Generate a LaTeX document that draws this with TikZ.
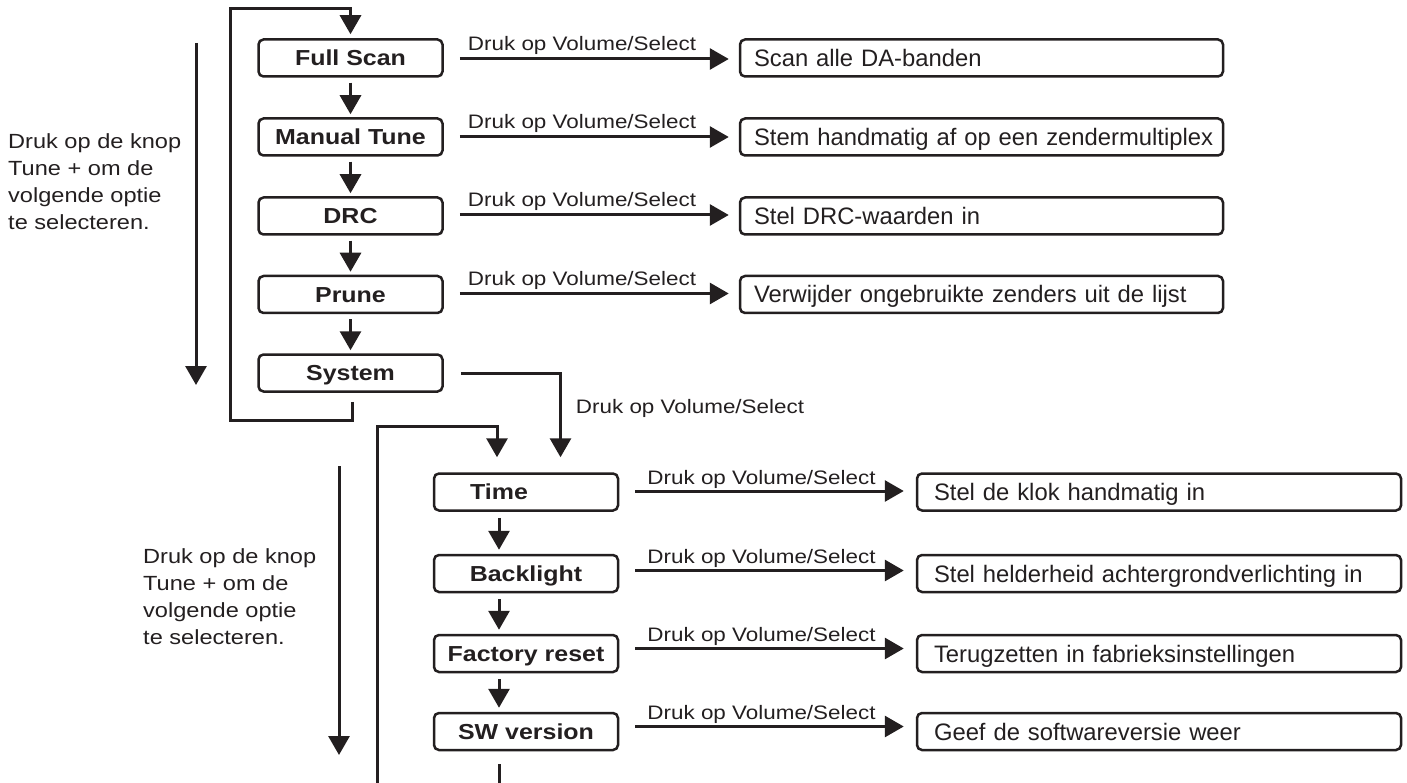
\documentclass[tikz,border=0pt]{standalone}
\usepackage{fontspec}
\setmainfont{Liberation Sans}
\newfontfamily\wide{Liberation Sans}[FakeStretch=1.15]
\usetikzlibrary{arrows.meta,calc}
\definecolor{ink}{HTML}{231F20}
\begin{document}
\begin{tikzpicture}[x=1pt,y=-1pt,
  lw/.style={line width=3pt, draw=ink},
  arr/.style={-{Triangle[length=19pt,width=21pt]}, line width=3pt, draw=ink},
  box/.style={draw=ink, line width=2.5pt, rounded corners=5pt, minimum width=184pt,
    minimum height=37pt, inner sep=0pt, text=ink, text height=15.5pt, text depth=0pt,
    font=\wide\bfseries\fontsize{21.7}{26}\selectfont},
  rbox/.style={draw=ink, line width=2.5pt, rounded corners=5pt, minimum height=37pt,
    inner ysep=0pt, align=left, text=ink, text height=17pt, text depth=0pt,
    font=\fontsize{23.8}{28}\selectfont},
  rboxa/.style={rbox, inner xsep=14pt, text width=455pt},
  rboxb/.style={rbox, inner xsep=17pt, text width=450pt},
  lbl/.style={anchor=base west, inner sep=0pt, text=ink, font=\wide\fontsize{19.5}{23}\selectfont},
  side/.style={anchor=north west, inner sep=0pt, align=left, text=ink,
    font=\wide\fontsize{20.5}{27}\selectfont}
]
\useasboundingbox (0,0) rectangle (1407,783);

% ---- top column
\node[box] (fs)    at (350.5,58)    {Full Scan};
\node[box] (mt)    at (350.5,137)   {Manual Tune};
\node[box] (drc)   at (350.5,216)   {DRC};
\node[box] (prune) at (350.5,294.5) {Prune};
\node[box] (sys)   at (350.5,373)   {System};

\node[rboxa] (r1) at (981.5,58)    {\mbox{Scan alle DA-banden}};
\node[rboxa] (r2) at (981.5,137)   {\mbox{Stem handmatig af op een zendermultiplex}};
\node[rboxa] (r3) at (981.5,216)   {\mbox{Stel DRC-waarden in}};
\node[rboxa] (r4) at (981.5,294.5) {\mbox{Verwijder ongebruikte zenders uit de lijst}};

\foreach \a/\b in {fs/mt, mt/drc, drc/prune, prune/sys}
  \draw[arr] ($(\a.south)+(0,5)$) -- ($(\b.north)+(0,-3)$);

\foreach \a/\b/\o in {fs/r1/1, mt/r2/0, drc/r3/-1, prune/r4/-1}{
  \draw[arr] ($(\a.east)+(16,\o)$) coordinate (s) -- ($(\b.west)+(-10,\o)$);
  \node[lbl] at ($(s)+(8,-8)$) {Druk op Volume/Select};
}

% top loop
\coordinate (loopA) at (230,9);
\draw[arr] ($(sys.south)+(1.5,9)$) -- ++(0,19) -| (loopA) -| ($(fs.north)+(0,-4)$);

% top left arrow and text
\coordinate (la1) at (196,43);
\coordinate (la2) at (196,385);
\draw[arr] (la1) -- (la2);
\node[side] (t1) at (8,133) {Druk op de knop\\Tune + om de\\volgende optie\\te selecteren.};

% ---- bottom column
\node[box] (time) at (526,492)   {Time\hspace*{54pt}};
\node[box] (bl)   at (526,573.5) {Backlight};
\node[box] (fr)   at (526,653.5) {Factory reset};
\node[box] (sw)   at (526,731.5) {SW version};

\node[rboxb] (q1) at (1159,492)   {\mbox{Stel de klok handmatig in}};
\node[rboxb] (q2) at (1159,573.5) {\mbox{Stel helderheid achtergrondverlichting in}};
\node[rboxb] (q3) at (1159,653.5) {\mbox{Terugzetten in fabrieksinstellingen}};
\node[rboxb] (q4) at (1159,731.5) {\mbox{Geef de softwareversie weer}};

\foreach \a/\b in {time/bl, bl/fr, fr/sw}
  \draw[arr] ($(\a.south)+(-27,6)$) -- ($(\b.north)+(-27,-4)$);

\foreach \a/\b/\o in {time/q1/-1, bl/q2/-3, fr/q3/-5, sw/q4/-5}{
  \draw[arr] ($(\a.east)+(16,\o)$) coordinate (s) -- ($(\b.west)+(-12,\o)$);
  \node[lbl] at ($(s)+(12,-7)$) {Druk op Volume/Select};
}

% System -> Time
\draw[arr] ($(sys.east)+(17,0)$) -| ($(time.north)+(34.5,-15)$);
\node[lbl] (sl) at ($(sys.east)+(132,40)$) {Druk op Volume/Select};

% bottom loop
\coordinate (loopB) at (377,783);
\draw[arr] (loopB) |- ($(time.north)+(-29,-46)$) -- ($(time.north)+(-29,-15)$);
\coordinate (swend) at (499,783);
\draw[lw] ($(sw.south)+(-27,13)$) -- (swend);

% bottom left arrow and text
\coordinate (lb1) at (339,466);
\coordinate (lb2) at (339,755);
\draw[arr] (lb1) -- (lb2);
\node[side] (t2) at (143,548) {Druk op de knop\\Tune + om de\\volgende optie\\te selecteren.};
\end{tikzpicture}
\end{document}
